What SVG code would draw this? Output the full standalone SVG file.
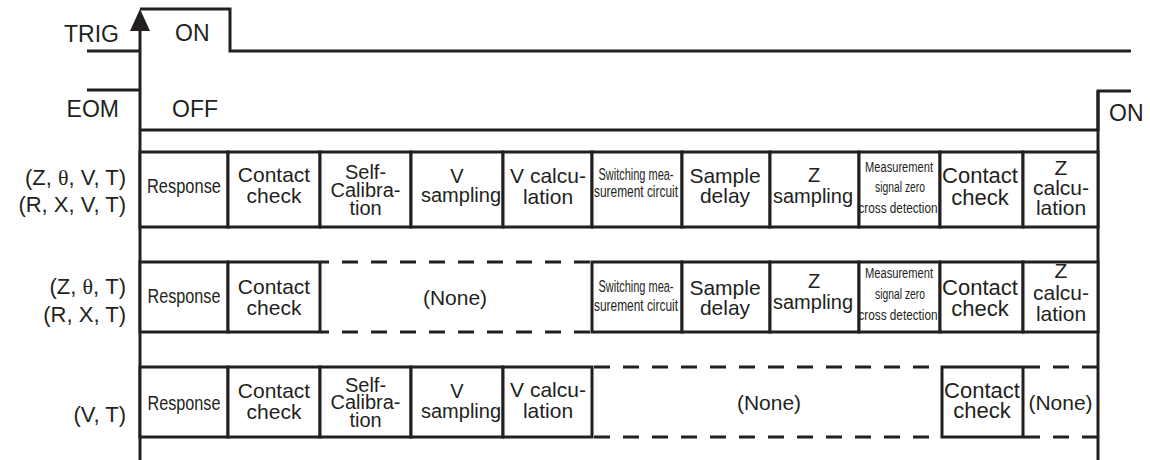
<svg xmlns="http://www.w3.org/2000/svg" width="1150" height="460" viewBox="0 0 1150 460">
<style>
.ln{stroke:#231f20;stroke-width:3;fill:none}
.cell{stroke:#231f20;stroke-width:3;fill:#fff}
.dash{stroke:#231f20;stroke-width:3;fill:none;stroke-dasharray:16 13}
text{font-family:"Liberation Sans",Arial,sans-serif;fill:#231f20}
.c{text-anchor:middle}
.e{text-anchor:end}
.sig{font-size:23px}
.lab{font-size:22px}
.f21{font-size:21px}
.f20{font-size:20px}
.f22{font-size:22px}
.rsp{font-size:19.5px}
.sm16{font-size:16px}
.sm14{font-size:14px}
.th{font-family:"Liberation Serif","DejaVu Serif",serif}
</style>
<rect width="1150" height="460" fill="#fff"/>

<g id="connectors">
  <line class="ln" x1="140" y1="28" x2="140" y2="460"/>
  <polygon points="140,9 130,31 150,31" fill="#231f20"/>
  <path class="ln" d="M87,51 H140"/>
  <path class="ln" d="M140,9 H230 V51 H1131"/>
  <path class="ln" d="M87,90 H140"/>
  <path class="ln" d="M140,130 H1098 V91 H1131"/>
  <line class="ln" x1="1098" y1="91" x2="1098" y2="460"/>
</g>

<g id="signal-labels">
  <text class="sig e" x="119" y="42">TRIG</text>
  <text class="sig" x="175" y="41">ON</text>
  <text class="sig e" x="119" y="117">EOM</text>
  <text class="sig" x="172" y="117">OFF</text>
  <text class="sig" x="1109" y="121">ON</text>
</g>

<g id="row-labels">
  <text class="lab e" x="126" y="185">(Z, <tspan class="th">θ</tspan>, V, T)</text>
  <text class="lab e" x="126" y="212">(R, X, V, T)</text>
  <text class="lab e" x="126" y="294">(Z, <tspan class="th">θ</tspan>, T)</text>
  <text class="lab e" x="126" y="322">(R, X, T)</text>
  <text class="lab e" x="126" y="422">(V, T)</text>
</g>

<!-- Row 1 -->
<g id="r1-response"><rect class="cell" x="140" y="152" width="88" height="75"/>
  <text class="rsp c" x="184" y="193" textLength="74" lengthAdjust="spacingAndGlyphs">Response</text></g>
<g id="r1-contact"><rect class="cell" x="228" y="152" width="92" height="75"/>
  <text class="f21 c" x="274" y="182">Contact</text><text class="f21 c" x="274" y="203">check</text></g>
<g id="r1-selfcal"><rect class="cell" x="320" y="152" width="91" height="75"/>
  <text class="f20 c" x="365.5" y="179">Self-</text><text class="f20 c" x="365.5" y="197">Calibra-</text><text class="f20 c" x="365.5" y="215">tion</text></g>
<g id="r1-vsamp"><rect class="cell" x="411" y="152" width="92" height="75"/>
  <text class="f20 c" x="457" y="183">V</text><text class="f20 c" x="461" y="202">sampling</text></g>
<g id="r1-vcalc"><rect class="cell" x="503" y="152" width="89" height="75"/>
  <text class="f21 c" x="548" y="183">V calcu-</text><text class="f21 c" x="548" y="204">lation</text></g>
<g id="r1-switch"><rect class="cell" x="592" y="152" width="90" height="75"/>
  <text class="sm16 c" x="636" y="180" textLength="75" lengthAdjust="spacingAndGlyphs">Switching mea-</text>
  <text class="sm16 c" x="636" y="197" textLength="84" lengthAdjust="spacingAndGlyphs">surement circuit</text></g>
<g id="r1-sdelay"><rect class="cell" x="682" y="152" width="88" height="75"/>
  <text class="f21 c" x="725" y="183">Sample</text><text class="f21 c" x="725" y="203">delay</text></g>
<g id="r1-zsamp"><rect class="cell" x="770" y="152" width="89" height="75"/>
  <text class="f20 c" x="814" y="182">Z</text><text class="f20 c" x="813" y="203">sampling</text></g>
<g id="r1-zerocross"><rect class="cell" x="859" y="152" width="81" height="75"/>
  <text class="sm14 c" x="899" y="172" textLength="68" lengthAdjust="spacingAndGlyphs">Measurement</text>
  <text class="sm14 c" x="900" y="192" textLength="50" lengthAdjust="spacingAndGlyphs">signal zero</text>
  <text class="sm14 c" x="898" y="213" textLength="79" lengthAdjust="spacingAndGlyphs">cross detection</text></g>
<g id="r1-contact2"><rect class="cell" x="940" y="152" width="83" height="75"/>
  <text class="f22 c" x="980" y="183">Contact</text><text class="f22 c" x="980" y="205">check</text></g>
<g id="r1-zcalc"><rect class="cell" x="1023" y="152" width="75" height="75"/>
  <text class="f21 c" x="1061" y="175">Z</text><text class="f21 c" x="1061" y="195">calcu-</text><text class="f21 c" x="1061" y="215">lation</text></g>

<!-- Row 2 -->
<g id="r2-response"><rect class="cell" x="140" y="262" width="88" height="70"/>
  <text class="rsp c" x="184" y="303" textLength="73" lengthAdjust="spacingAndGlyphs">Response</text></g>
<g id="r2-contact"><rect class="cell" x="228" y="262" width="92" height="70"/>
  <text class="f21 c" x="274" y="294">Contact</text><text class="f21 c" x="274" y="315">check</text></g>
<g id="r2-none">
  <line class="dash" x1="321" y1="262" x2="592" y2="262" stroke-dashoffset="8"/>
  <line class="dash" x1="321" y1="332" x2="592" y2="332" stroke-dashoffset="8"/>
  <text class="f21 c" x="455" y="305">(None)</text></g>
<g id="r2-switch"><rect class="cell" x="592" y="262" width="90" height="70"/>
  <text class="sm16 c" x="636" y="292" textLength="75" lengthAdjust="spacingAndGlyphs">Switching mea-</text>
  <text class="sm16 c" x="636" y="311" textLength="84" lengthAdjust="spacingAndGlyphs">surement circuit</text></g>
<g id="r2-sdelay"><rect class="cell" x="682" y="262" width="88" height="70"/>
  <text class="f21 c" x="725" y="295">Sample</text><text class="f21 c" x="725" y="315">delay</text></g>
<g id="r2-zsamp"><rect class="cell" x="770" y="262" width="89" height="70"/>
  <text class="f20 c" x="814" y="288">Z</text><text class="f20 c" x="813" y="309">sampling</text></g>
<g id="r2-zerocross"><rect class="cell" x="859" y="262" width="81" height="70"/>
  <text class="sm14 c" x="899" y="278" textLength="68" lengthAdjust="spacingAndGlyphs">Measurement</text>
  <text class="sm14 c" x="900" y="299" textLength="50" lengthAdjust="spacingAndGlyphs">signal zero</text>
  <text class="sm14 c" x="898" y="320" textLength="79" lengthAdjust="spacingAndGlyphs">cross detection</text></g>
<g id="r2-contact2"><rect class="cell" x="940" y="262" width="83" height="70"/>
  <text class="f22 c" x="980" y="295">Contact</text><text class="f22 c" x="980" y="316">check</text></g>
<g id="r2-zcalc"><rect class="cell" x="1023" y="262" width="75" height="70"/>
  <text class="f21 c" x="1061" y="278">Z</text><text class="f21 c" x="1061" y="300">calcu-</text><text class="f21 c" x="1061" y="321">lation</text></g>

<!-- Row 3 -->
<g id="r3-response"><rect class="cell" x="140" y="367" width="88" height="70"/>
  <text class="rsp c" x="184" y="410" textLength="73" lengthAdjust="spacingAndGlyphs">Response</text></g>
<g id="r3-contact"><rect class="cell" x="228" y="367" width="92" height="70"/>
  <text class="f21 c" x="274" y="398">Contact</text><text class="f21 c" x="274" y="419">check</text></g>
<g id="r3-selfcal"><rect class="cell" x="320" y="367" width="91" height="70"/>
  <text class="f20 c" x="365.5" y="392">Self-</text><text class="f20 c" x="365.5" y="409">Calibra-</text><text class="f20 c" x="365.5" y="427">tion</text></g>
<g id="r3-vsamp"><rect class="cell" x="411" y="367" width="92" height="70"/>
  <text class="f20 c" x="457" y="398">V</text><text class="f20 c" x="461" y="418">sampling</text></g>
<g id="r3-vcalc"><rect class="cell" x="503" y="367" width="89" height="70"/>
  <text class="f21 c" x="548" y="397">V calcu-</text><text class="f21 c" x="548" y="418">lation</text></g>
<g id="r3-none">
  <line class="dash" x1="594" y1="367" x2="942" y2="367"/>
  <line class="dash" x1="594" y1="437" x2="942" y2="437"/>
  <text class="f21 c" x="769" y="410">(None)</text></g>
<g id="r3-contact2"><rect class="cell" x="942" y="367" width="81" height="70"/>
  <text class="f22 c" x="982" y="398">Contact</text><text class="f22 c" x="982" y="418">check</text></g>
<g id="r3-none2">
  <line class="dash" x1="1024" y1="367" x2="1098" y2="367"/>
  <line class="dash" x1="1024" y1="437" x2="1098" y2="437"/>
  <text class="f21 c" x="1060.5" y="410">(None)</text></g>
</svg>
